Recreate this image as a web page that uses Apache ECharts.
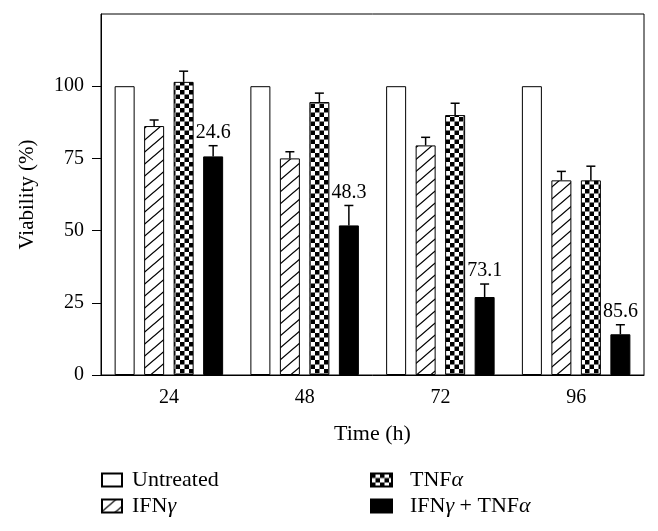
<!DOCTYPE html>
<html>
<head>
<meta charset="utf-8">
<script src="https://cdn.jsdelivr.net/npm/echarts@6/dist/echarts.min.js"></script>
<style>html,body{margin:0;padding:0;background:#fff;}#c{width:658px;height:531px;}</style>
</head>
<body>
<div id="c"></div>
<script>
const categories = ['24', '48', '72', '96'];
const seriesNames = ['Untreated', 'IFNγ', 'TNFα', 'IFNγ + TNFα'];
const untreated = [100, 100, 100, 100];
const ifng = [86.2, 75.0, 79.5, 67.4];
const ifngErr = [2.1, 2.3, 2.8, 3.1];
const tnfa = [101.5, 94.5, 90.0, 67.4];
const tnfaErr = [3.7, 3.1, 4.1, 4.9];
const combo = [75.7, 51.8, 27.0, 14.1];
const comboErr = [3.7, 6.9, 4.5, 3.3];
const reductionLabels = ['24.6', '48.3', '73.1', '85.6'];
const yTicks = [0, 25, 50, 75, 100];

const FONT = '"Liberation Serif", "DejaVu Serif", serif';

function makeHatch() {
  const c = document.createElement('canvas');
  const w = 14, h = 12;
  c.width = w; c.height = h;
  const g = c.getContext('2d');
  g.fillStyle = '#fff'; g.fillRect(0, 0, w, h);
  g.strokeStyle = '#000'; g.lineWidth = 1.3;
  g.beginPath();
  g.moveTo(-w, 2 * h); g.lineTo(2 * w, -h);
  g.moveTo(-2 * w, 2 * h); g.lineTo(w, -h);
  g.moveTo(0, 2 * h); g.lineTo(3 * w, -h);
  g.stroke();
  return c;
}
function makeChecker() {
  const c = document.createElement('canvas');
  c.width = 9; c.height = 9;
  const g = c.getContext('2d');
  g.fillStyle = '#fff'; g.fillRect(0, 0, 9, 9);
  g.fillStyle = '#000';
  g.fillRect(0, 0, 4.5, 4.5); g.fillRect(4.5, 4.5, 4.5, 4.5);
  return c;
}

const BAR_W = 20, BAR_STEP = 29.5;

function errSeries(name, values, errs, slot, labels) {
  return {
    type: 'custom',
    name: name + ' err',
    z: 5,
    data: values.map((v, i) => [i, v, errs[i]]),
    renderItem: function (params, api) {
      const c = api.value(0), v = api.value(1), e = api.value(2);
      const base = api.coord([c, v]);
      const top = api.coord([c, v + e]);
      const x = base[0] + (slot - 1.5) * BAR_STEP;
      const children = [
        { type: 'line', shape: { x1: x, y1: base[1], x2: x, y2: top[1] }, style: { stroke: '#000', lineWidth: 1.5 } },
        { type: 'line', shape: { x1: x - 4.5, y1: top[1], x2: x + 4.5, y2: top[1] }, style: { stroke: '#000', lineWidth: 1.5 } }
      ];
      if (labels) {
        children.push({
          type: 'text', x: x, y: top[1] - 3,
          style: { text: labels[params.dataIndex], fill: '#000', fontSize: 20, fontFamily: FONT, align: 'center', verticalAlign: 'bottom' }
        });
      }
      return { type: 'group', children: children };
    }
  };
}

function legendFmt(name) {
  return name.replace(/([αγ])/g, '{i|$1}');
}
const legendText = {
  fontSize: 22, fontFamily: FONT, color: '#000',
  rich: { i: { fontSize: 22, fontFamily: FONT, fontStyle: 'italic', color: '#000' } }
};

const chart = echarts.init(document.getElementById('c'), null, { renderer: 'canvas' });
const hatch = { image: makeHatch(), repeat: 'repeat' };
const checker = { image: makeChecker(), repeat: 'repeat' };
const barStyle = (color) => ({ color: color, borderColor: '#000', borderWidth: 1 });

chart.setOption({
  animation: false,
  backgroundColor: '#fff',
  grid: { left: 101, right: 14, top: 14, bottom: 156, show: true, borderColor: '#000', borderWidth: 1, backgroundColor: 'transparent' },
  legend: [
    {
      data: [seriesNames[0], seriesNames[1]], orient: 'vertical', left: 101, top: 469, padding: 0,
      icon: 'rect', itemWidth: 20, itemHeight: 13, itemGap: 4, formatter: legendFmt,
      textStyle: Object.assign({ padding: [0, 0, 0, 5] }, legendText),
      selectedMode: false
    },
    {
      data: [seriesNames[2], seriesNames[3]], orient: 'vertical', left: 370, top: 469, padding: 0,
      icon: 'rect', itemWidth: 21, itemHeight: 13, itemGap: 4, formatter: legendFmt,
      textStyle: Object.assign({ padding: [0, 0, 0, 13] }, legendText),
      selectedMode: false
    }
  ],
  xAxis: {
    type: 'category', data: categories,
    name: 'Time (h)', nameLocation: 'middle', nameGap: 48,
    nameTextStyle: { fontSize: 22, fontFamily: FONT, color: '#000' },
    axisLine: { lineStyle: { color: '#000', width: 1 } },
    axisTick: { alignWithLabel: true, length: 6, lineStyle: { color: '#000' } },
    axisLabel: { fontSize: 20, fontFamily: FONT, color: '#000', margin: 13 },
    splitLine: { show: false }
  },
  yAxis: {
    type: 'value', min: 0, max: 125, interval: 25,
    name: 'Viability (%)', nameLocation: 'middle', nameGap: 63,
    nameTextStyle: { fontSize: 21, fontFamily: FONT, color: '#000' },
    axisLine: { show: true, lineStyle: { color: '#000', width: 1 } },
    axisTick: { show: true, length: 9, customValues: yTicks, lineStyle: { color: '#000' } },
    axisLabel: { fontSize: 20, fontFamily: FONT, color: '#000', margin: 17, customValues: yTicks },
    splitLine: { show: false }
  },
  series: [
    { type: 'bar', name: seriesNames[0], data: untreated, barWidth: BAR_W, barGap: ((BAR_STEP - BAR_W) / BAR_W * 100) + '%', itemStyle: barStyle('#fff') },
    { type: 'bar', name: seriesNames[1], data: ifng, barWidth: BAR_W, itemStyle: barStyle(hatch) },
    { type: 'bar', name: seriesNames[2], data: tnfa, barWidth: BAR_W, itemStyle: barStyle(checker) },
    { type: 'bar', name: seriesNames[3], data: combo, barWidth: BAR_W, itemStyle: barStyle('#000') },
    errSeries(seriesNames[1], ifng, ifngErr, 1, null),
    errSeries(seriesNames[2], tnfa, tnfaErr, 2, null),
    errSeries(seriesNames[3], combo, comboErr, 3, reductionLabels)
  ]
});
</script>
</body>
</html>
